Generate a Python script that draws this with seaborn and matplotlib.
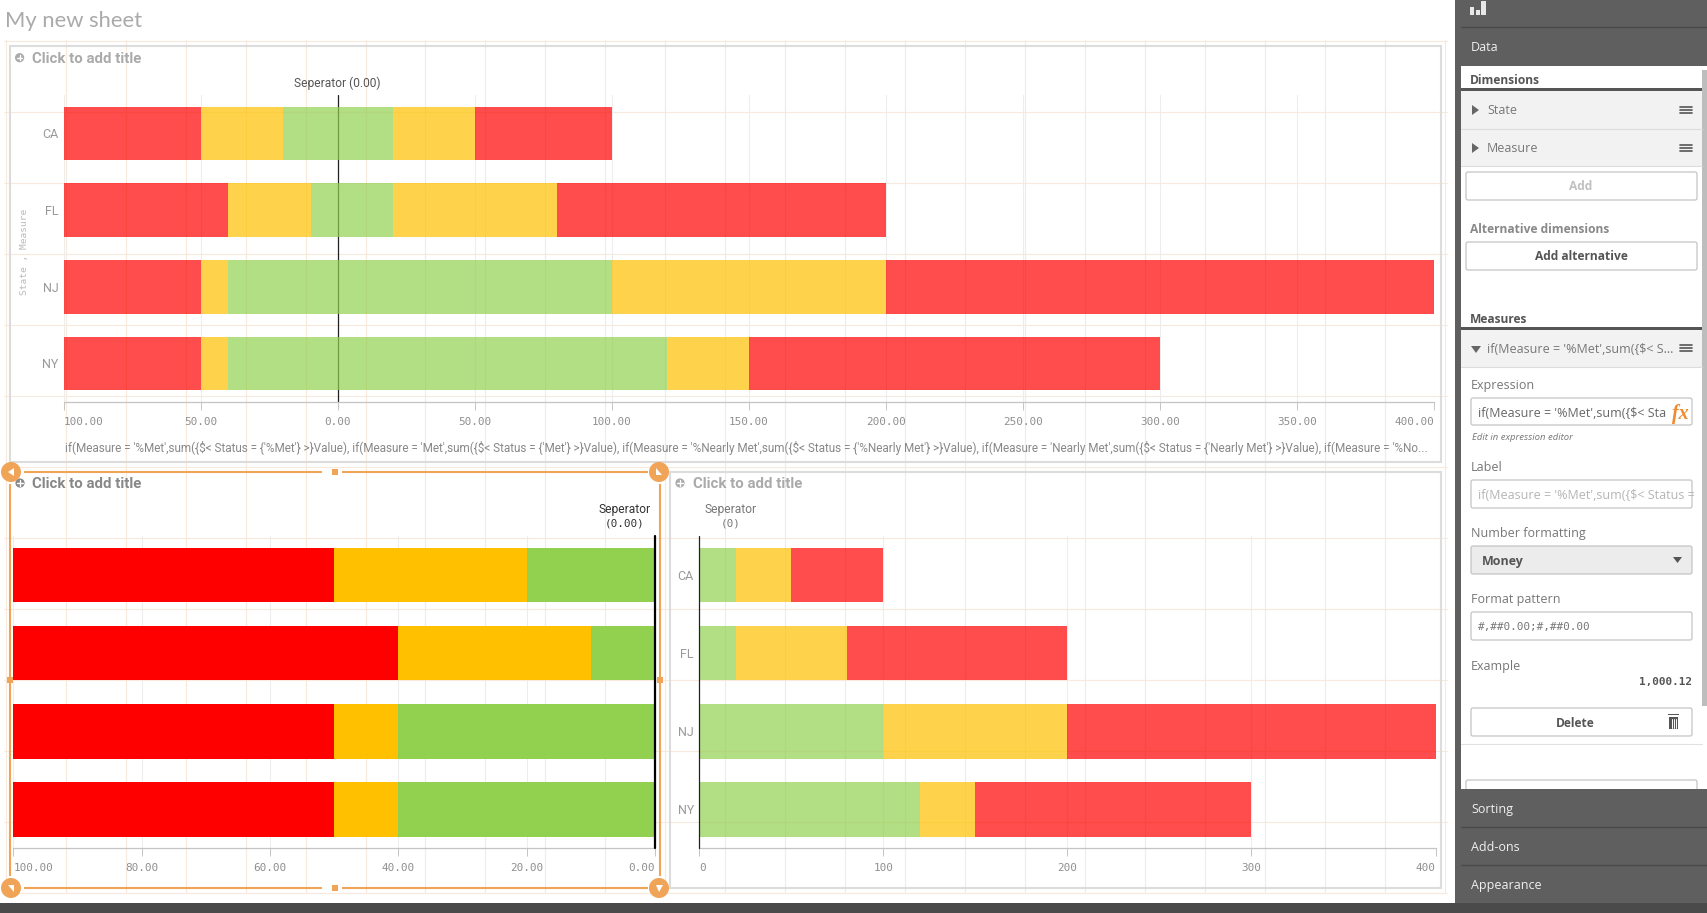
import numpy as np
import matplotlib
matplotlib.use("Agg")
import matplotlib.pyplot as plt
import seaborn as sns
from matplotlib.patches import Rectangle, Circle, Polygon, FancyBboxPatch

# chart data
states = ["CA", "FL", "NJ", "NY"]
pct_not_met = [50, 60, 50, 50]
pct_nearly_met = [30, 30, 10, 10]
pct_met = [20, 10, 40, 40]
met = [20, 20, 100, 120]
nearly_met = [30, 60, 100, 30]
not_met = [50, 120, 200, 150]

top_ticks = [-100, -50, 0, 50, 100, 150, 200, 250, 300, 350, 400]
left_ticks = [100, 80, 60, 40, 20, 0]
right_ticks = [0, 100, 200, 300, 400]

W, H = 1707, 913
RED, YELLOW, GREEN = "#ff0000", "#ffc000", "#92d050"
ORANGE = "#f0a458"
DARK = "#5f5f5f"
NARROW = ["Liberation Sans Narrow", "Roboto"]
MONO = "DejaVu Sans Mono"
LONG_LABEL = ("if(Measure = '%Met',sum({$< Status = {'%Met'} >}Value), "
              "if(Measure = 'Met',sum({$< Status = {'Met'} >}Value), "
              "if(Measure = '%Nearly Met',sum({$< Status = {'%Nearly Met'} >}Value), "
              "if(Measure = 'Nearly Met',sum({$< Status = {'Nearly Met'} >}Value), "
              "if(Measure = '%No...")

sns.set_theme(style="white")
plt.rcParams["font.family"] = ["Open Sans", "DejaVu Sans"]

fig = plt.figure(figsize=(W / 100, H / 100), dpi=100, facecolor="white")


def pixel_axes(zorder):
    ax = fig.add_axes([0, 0, 1, 1], zorder=zorder)
    ax.set_xlim(0, W)
    ax.set_ylim(H, 0)
    ax.axis("off")
    ax.patch.set_alpha(0)
    return ax


back = pixel_axes(0)
front = pixel_axes(5)


def box(ax, x0, y0, x1, y1, fc="none", ec="none", lw=0, zorder=2):
    ax.add_patch(Rectangle((x0, y0), x1 - x0, y1 - y0, facecolor=fc, edgecolor=ec,
                           linewidth=lw, zorder=zorder))


def rounded(ax, x0, y0, x1, y1, fc="white", ec="#c4c4c4"):
    ax.add_patch(FancyBboxPatch((x0, y0), x1 - x0, y1 - y0, boxstyle="round,pad=0,rounding_size=2",
                                facecolor=fc, edgecolor=ec, linewidth=0.9, zorder=3))


def label(ax, x, y, s, px=12.5, color="#666666", ha="left", va="center_baseline", **kw):
    ax.text(x, y, s, fontsize=px * 0.72, color=color, ha=ha, va=va, parse_math=False, zorder=4, **kw)


def chart_axes(x0, y0, x1, y1):
    return fig.add_axes([x0 / W, 1 - y1 / H, (x1 - x0) / W, (y1 - y0) / H], zorder=2, facecolor="none")


def hbar(ax, left, width, color, alpha=0.7):
    sns.barplot(x=list(width), y=states, orient="y", left=list(left), color=color, saturation=1,
                width=0.7, errorbar=None, alpha=alpha, linewidth=0, ax=ax)


def finish_axis(ax, xlim, ticks, labels, ylabels=True):
    ax.set_xlim(*xlim)
    ax.set_ylim(3.5, -0.5)
    ax.set_xlabel("")
    ax.set_ylabel("")
    ax.set_axisbelow(True)
    ax.grid(axis="x", color="#ededed", linewidth=0.8)
    ax.set_xticks(ticks)
    ax.set_xticklabels(labels, fontfamily=MONO, fontsize=11 * 0.72, color="#8f8f8f")
    ax.get_xticklabels()[0].set_ha("left")
    ax.get_xticklabels()[-1].set_ha("right")
    ax.tick_params(axis="x", length=5.8, width=0.7, color="#c4c4c4", pad=5, bottom=True)
    ax.tick_params(axis="y", length=0, pad=4)
    if ylabels:
        for t in ax.get_yticklabels():
            t.set_fontfamily(NARROW)
            t.set_fontsize(12.5 * 0.72)
            t.set_color("#999999")
    else:
        ax.set_yticklabels([])
    for side in ("top", "left", "right"):
        ax.spines[side].set_visible(False)
    ax.spines["bottom"].set_color("#c4c4c4")
    ax.spines["bottom"].set_linewidth(0.9)


# sheet layout grid behind everything
for gx in np.arange(5.7, 1447, 59.97):
    back.plot([gx, gx], [40, 893], color="#f7eadc", lw=0.8, zorder=1)
for gy in np.arange(41.3, 895, 71.0):
    back.plot([4, 1447], [gy, gy], color="#f7eadc", lw=0.8, zorder=1)

# panel frames
box(back, 10, 46, 1441, 462, ec="#dcdcdc", lw=1.5)
box(back, 670, 472, 1441, 888, ec="#dcdcdc", lw=1.5)

label(back, 5, 19, "My new sheet", px=22, color="#aaaaaa", family=["Lato", "DejaVu Sans"])

# top: both sides of the separator
not_l, near_l, met_l = np.array(pct_not_met), np.array(pct_nearly_met), np.array(pct_met)
met_r, near_r, not_r = np.array(met), np.array(nearly_met), np.array(not_met)

ax_top = chart_axes(64, 95, 1434, 401.7)
ax_top.axvline(0, color="#222222", lw=0.9, zorder=1)
hbar(ax_top, -met_l - near_l - not_l, not_l, RED)
hbar(ax_top, -met_l - near_l, near_l, YELLOW)
hbar(ax_top, -met_l, met_l + met_r, GREEN)
hbar(ax_top, met_r, near_r, YELLOW)
hbar(ax_top, met_r + near_r, not_r, RED)
finish_axis(ax_top, (-100, 400), top_ticks, [f"{abs(t):.2f}" for t in top_ticks])

# bottom left: percentages, reversed axis
ax_left = chart_axes(13.3, 536, 655, 848.3)
hbar(ax_left, np.zeros(4), met_l, GREEN, alpha=1)
hbar(ax_left, met_l, near_l, YELLOW, alpha=1)
hbar(ax_left, met_l + near_l, not_l, RED, alpha=1)
ax_left.axvline(0, color="black", lw=1.6, zorder=6, clip_on=False)
finish_axis(ax_left, (100, 0), left_ticks, [f"{t:.2f}" for t in left_ticks], ylabels=False)

# bottom right: absolute values
ax_right = chart_axes(699.4, 536, 1435.5, 848.3)
ax_right.axvline(0, color="#222222", lw=0.9, zorder=6, clip_on=False)
hbar(ax_right, np.zeros(4), met_r, GREEN)
hbar(ax_right, met_r, near_r, YELLOW)
hbar(ax_right, met_r + near_r, not_r, RED)
finish_axis(ax_right, (0, 400), right_ticks, [str(t) for t in right_ticks])

# chart captions
label(back, 337.5, 82, "Seperator (0.00)", px=12, color="#555555", ha="center", family=NARROW)
label(back, 625, 508, "Seperator", px=12, color="#333333", ha="center", family=NARROW)
label(back, 625, 523, "(0.00)", px=11, color="#333333", ha="center", family=MONO)
label(back, 730.4, 508, "Seperator", px=12, color="#777777", ha="center", family=NARROW)
label(back, 730.4, 523, "(0)", px=11, color="#777777", ha="center", family=MONO)
label(back, 65, 446.7, LONG_LABEL, px=11.7, color="#888888", family=NARROW)
label(back, 24.5, 252, "State , Measure", px=9.5, color="#bbbbbb", ha="center", va="center",
      rotation=90, family=MONO)

for ix, iy, tx, col in [(19.6, 57.7, 32, "#aaaaaa"), (20, 483, 32, "#888888"), (680, 483, 692.7, "#aaaaaa")]:
    back.add_patch(Circle((ix, iy), 4.6, facecolor=col, edgecolor="none", zorder=3))
    back.plot([ix - 2.8, ix + 2.8], [iy, iy], color="white", lw=1, zorder=4)
    back.plot([ix, ix], [iy - 2.8, iy + 2.8], color="white", lw=1, zorder=4)
    label(back, tx, iy, "Click to add title", px=15, color=col, fontweight="bold", family=NARROW)

# selection frame with handles
for xs, ys in [([24, 322], [472, 472]), ([342, 648], [472, 472]), ([24, 322], [888, 888]), ([342, 648], [888, 888]),
               ([10, 10], [484, 876]), ([660, 660], [484, 876])]:
    front.plot(xs, ys, color=ORANGE, lw=1.5, solid_capstyle="butt")
for hx, hy in [(335, 472), (335, 888), (10, 680), (660, 680)]:
    box(front, hx - 3, hy - 3, hx + 3, hy + 3, fc=ORANGE)
for hx, hy, pts in [(11, 472, [(-3, 0), (3, -4), (3, 4)]), (659, 472, [(-3, -4), (3, 3), (-3, 3)]),
                    (11, 888, [(-3, -3), (3, -3), (3, 4)]), (659, 888, [(-3, -3), (4, -3), (0, 4)])]:
    front.add_patch(Circle((hx, hy), 10, facecolor=ORANGE, edgecolor="none", zorder=3))
    front.add_patch(Polygon([(hx + a, hy + b) for a, b in pts], facecolor="white", edgecolor="none", zorder=4))

# property panel
box(front, 1450, 0, W, H, fc="white", zorder=1)
box(front, 1455, 0, 1461, H, fc=DARK)
box(front, 1461, 0, W, 66, fc=DARK)
front.plot([1461, W], [27, 27], color="#4a4a4a", lw=1, zorder=3)
for bx0, bx1, top in [(1469.5, 1474, 7), (1476, 1479.5, 10), (1481, 1485.5, 1)]:
    box(front, bx0, top, bx1, 15, fc="#e8e8e8", zorder=3)
label(front, 1471, 46, "Data", color="#f0f0f0")

box(front, 1702, 70, W, 706, fc="#bdbdbd", zorder=3)
label(front, 1470, 79, "Dimensions", px=12, color="#555555", fontweight="bold")
box(front, 1461, 88, 1702, 91, fc="#555555", zorder=3)
for y0, y1 in [(91, 129), (130, 166), (330, 367)]:
    box(front, 1461, y0, 1702, y1, fc="#f2f2f2", zorder=2)
    front.plot([1461, 1702], [y1, y1], color="#dddddd", lw=0.8, zorder=3)
    cy = (y0 + y1) / 2
    for dy in (-3, 0, 3):
        front.plot([1680, 1692], [cy + dy, cy + dy], color="#555555", lw=1.2, zorder=3)
for cy in (110, 148):
    front.add_patch(Polygon([(1472, cy - 5), (1472, cy + 5), (1479, cy)], facecolor="#666666",
                            edgecolor="none", zorder=5))
front.add_patch(Polygon([(1471, 346), (1481, 346), (1476, 353)], facecolor="#666666", edgecolor="none", zorder=5))
label(front, 1487, 109, "State", color="#777777")
label(front, 1487, 147, "Measure", color="#777777")

rounded(front, 1466, 172, 1697, 200)
label(front, 1581, 185, "Add", px=12, color="#c0c0c0", ha="center", fontweight="bold")
label(front, 1470, 228, "Alternative dimensions", px=12, color="#888888", fontweight="bold")
rounded(front, 1466, 242, 1697, 270)
label(front, 1581, 255, "Add alternative", px=12, color="#555555", ha="center", fontweight="bold")

label(front, 1470, 318, "Measures", px=12, color="#555555", fontweight="bold")
box(front, 1461, 327, 1702, 330, fc="#555555", zorder=3)
label(front, 1487, 348, "if(Measure = '%Met',sum({$< S...", color="#777777")

label(front, 1471, 384, "Expression", color="#777777")
rounded(front, 1471, 398, 1692, 425)
label(front, 1478, 412, "if(Measure = '%Met',sum({$< Sta", color="#666666")
label(front, 1672, 412, "fx", px=20, color="#f08a30", fontweight="bold", style="italic",
      family=["Liberation Serif", "DejaVu Serif"])
label(front, 1472, 436, "Edit in expression editor", px=9.5, color="#777777", style="italic")

label(front, 1471, 466, "Label", color="#777777")
rounded(front, 1471, 480, 1692, 508)
label(front, 1478, 494, "if(Measure = '%Met',sum({$< Status =", color="#b5b5b5")

label(front, 1471, 532, "Number formatting", color="#777777")
rounded(front, 1471, 546, 1692, 574, fc="#ececec")
label(front, 1482, 560, "Money", color="#555555", fontweight="bold")
front.add_patch(Polygon([(1673, 557), (1682, 557), (1677.5, 563)], facecolor="#555555", edgecolor="none", zorder=5))

label(front, 1471, 598, "Format pattern", color="#777777")
rounded(front, 1471, 612, 1692, 640)
label(front, 1478, 626, "#,##0.00;#,##0.00", px=11, color="#777777", family=MONO)
label(front, 1471, 665, "Example", color="#777777")
label(front, 1692, 681, "1,000.12", px=11, color="#555555", ha="right", fontweight="bold", family=MONO)

rounded(front, 1471, 708, 1692, 736)
label(front, 1575, 722, "Delete", px=12, color="#555555", ha="center", fontweight="bold")
box(front, 1669, 717, 1678, 729, fc="#555555", zorder=4)
box(front, 1668, 714, 1679, 715.5, fc="#555555", zorder=4)
for tx in (1671.5, 1673.5, 1675.5):
    front.plot([tx, tx], [719, 728], color="white", lw=0.7, zorder=5)
front.plot([1461, 1702], [744, 744], color="#e0e0e0", lw=0.8, zorder=3)
rounded(front, 1466, 780, 1697, 800)

box(front, 1461, 789, W, 903, fc=DARK, zorder=3)
for sy in (827, 865):
    front.plot([1461, W], [sy, sy], color="#4a4a4a", lw=1, zorder=3.5)
for sy, name in [(808, "Sorting"), (846, "Add-ons"), (884, "Appearance")]:
    label(front, 1471, sy, name, color="#f0f0f0")

# dark strip along the bottom
box(front, 0, 903, W, H, fc="#4a4a4a", zorder=4)

fig.savefig("out.png", dpi=100)
